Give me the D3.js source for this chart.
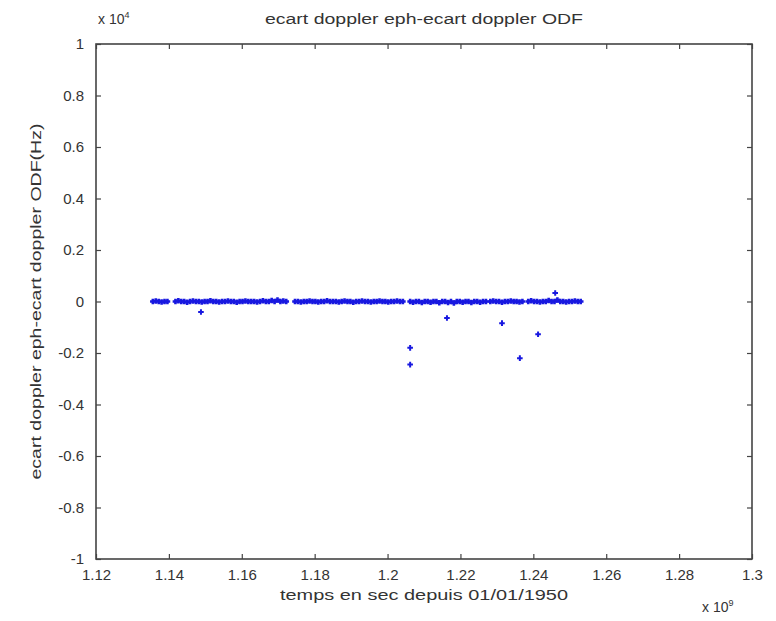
<!DOCTYPE html>
<html>
<head>
<meta charset="utf-8">
<script src="https://cdn.jsdelivr.net/npm/d3@7"></script>
<style>
  html, body { margin: 0; padding: 0; background: #fff; }
  svg { display: block; }
  text { font-family: "Liberation Sans", Arial, sans-serif; fill: #333; }
</style>
</head>
<body>
<svg id="chart" width="776" height="621"></svg>
<script>
// ---- data (time in 1e9 s, value in 1e4 Hz) ----
const titleText = "ecart doppler eph-ecart doppler ODF";
const xLabelText = "temps en sec depuis 01/01/1950";
const yLabelText = "ecart doppler eph-ecart doppler ODF(Hz)";

const xTicks = [1.12, 1.14, 1.16, 1.18, 1.2, 1.22, 1.24, 1.26, 1.28, 1.3];
const xTickLabels = ["1.12", "1.14", "1.16", "1.18", "1.2", "1.22", "1.24", "1.26", "1.28", "1.3"];
const yTicks = [-1, -0.8, -0.6, -0.4, -0.2, 0, 0.2, 0.4, 0.6, 0.8, 1];
const yTickLabels = ["-1", "-0.8", "-0.6", "-0.4", "-0.2", "0", "0.2", "0.4", "0.6", "0.8", "1"];

const bandTimes = [
  1.1356, 1.1364, 1.1372, 1.1380, 1.1388, 1.1396,
  1.1418, 1.1426, 1.1434, 1.1442, 1.1450, 1.1458, 1.1466, 1.1474, 1.1482, 1.1490,
  1.1498, 1.1506, 1.1514, 1.1522, 1.1530, 1.1538, 1.1546, 1.1554, 1.1562, 1.1570,
  1.1578, 1.1586, 1.1594, 1.1602, 1.1610, 1.1618, 1.1626, 1.1634, 1.1642, 1.1650,
  1.1658, 1.1666, 1.1674, 1.1682, 1.1690, 1.1698, 1.1706, 1.1714, 1.1722,
  1.1746, 1.1754, 1.1762, 1.1770, 1.1778, 1.1786, 1.1794, 1.1802, 1.1810, 1.1818,
  1.1826, 1.1834, 1.1842, 1.1850, 1.1858, 1.1866, 1.1874, 1.1882, 1.1890, 1.1898,
  1.1906, 1.1914, 1.1922, 1.1930, 1.1938, 1.1946, 1.1954, 1.1962, 1.1970, 1.1978,
  1.1986, 1.1994, 1.2002, 1.2010, 1.2018, 1.2026, 1.2034, 1.2042,
  1.2062, 1.2070, 1.2078, 1.2086, 1.2094, 1.2102, 1.2110, 1.2118, 1.2126, 1.2134,
  1.2142, 1.2150, 1.2158, 1.2166, 1.2174, 1.2182, 1.2190, 1.2198, 1.2206, 1.2214,
  1.2222, 1.2230, 1.2238, 1.2246, 1.2254, 1.2262, 1.2270,
  1.2282, 1.2290, 1.2298, 1.2306, 1.2314, 1.2322, 1.2330, 1.2338, 1.2346, 1.2354,
  1.2362, 1.2370,
  1.2386, 1.2394, 1.2402, 1.2410, 1.2418, 1.2426, 1.2434, 1.2442, 1.2450, 1.2458,
  1.2466, 1.2474, 1.2482, 1.2490, 1.2498, 1.2506, 1.2514, 1.2522, 1.2530
];
const bandValues = [
  0, 0.002, 0, -0.002, 0, 0,
  0, 0.003, 0, 0, -0.003, 0, 0.002, 0, 0, -0.002,
  0, 0, 0.003, 0, 0, -0.002, 0, 0, 0.002, 0,
  0, -0.003, 0, 0, 0.002, 0, 0, 0, -0.002, 0,
  0.003, 0, 0, 0.004, 0, 0.006, 0, 0.002, 0,
  0, 0, -0.002, 0, 0, 0.002, 0, 0, -0.002, 0,
  0, 0.003, 0, 0, 0, -0.002, 0, 0.002, 0, 0,
  -0.003, 0, 0, 0.002, 0, 0, -0.002, 0, 0, 0.002,
  0, 0, -0.002, 0, 0, 0.002, 0, 0,
  0, -0.003, 0, 0, -0.004, 0, 0, -0.003, 0, 0,
  -0.005, 0, 0, -0.004, 0, -0.006, 0, 0, -0.003, 0,
  0, -0.004, 0, 0, -0.003, 0, 0,
  0, 0.002, 0, 0, -0.003, 0, 0, 0.002, 0, 0,
  -0.002, 0,
  0, 0.003, 0, 0, -0.002, 0, 0, 0.004, 0, 0,
  0.006, 0, 0, -0.002, 0, 0, 0.002, 0, 0
];
const outlierTimes = [1.1488, 1.2062, 1.2062, 1.2163, 1.2314, 1.2363, 1.2413, 1.2460];
const outlierValues = [-0.041, -0.18, -0.245, -0.064, -0.084, -0.22, -0.127, 0.033];

// ---- layout ----
const svg = d3.select("#chart");
const W = 776, H = 621;
const margin = { left: 96, right: W - 752, top: 44, bottom: H - 559 };
const plotW = W - margin.left - margin.right;
const plotH = H - margin.top - margin.bottom;

const x = d3.scaleLinear().domain([1.12, 1.3]).range([margin.left, margin.left + plotW]);
const y = d3.scaleLinear().domain([-1, 1]).range([margin.top + plotH, margin.top]);

svg.append("rect").attr("x", 0).attr("y", 0).attr("width", W).attr("height", H).attr("fill", "#fff");

const axisColor = "#444";
const tickLen = 5;
const fontSize = 15;

const xAxisB = d3.axisBottom(x).tickValues(xTicks)
  .tickFormat((d, i) => xTickLabels[i]).tickSizeInner(-tickLen).tickSizeOuter(0).tickPadding(10);
const gxB = svg.append("g").attr("transform", `translate(0,${margin.top + plotH})`).call(xAxisB);
const xAxisT = d3.axisTop(x).tickValues(xTicks).tickFormat("").tickSizeInner(-tickLen).tickSizeOuter(0);
const gxT = svg.append("g").attr("transform", `translate(0,${margin.top})`).call(xAxisT);

const yAxisL = d3.axisLeft(y).tickValues(yTicks)
  .tickFormat((d, i) => yTickLabels[i]).tickSizeInner(-tickLen).tickSizeOuter(0).tickPadding(12);
const gyL = svg.append("g").attr("transform", `translate(${margin.left},0)`).call(yAxisL);
const yAxisR = d3.axisRight(y).tickValues(yTicks).tickFormat("").tickSizeInner(-tickLen).tickSizeOuter(0);
const gyR = svg.append("g").attr("transform", `translate(${margin.left + plotW},0)`).call(yAxisR);

[gxB, gxT, gyL, gyR].forEach(g => {
  g.select(".domain").remove();
  g.selectAll(".tick line").attr("stroke", axisColor).attr("stroke-width", 1.2);
  g.selectAll(".tick text").attr("fill", "#333").style("font-size", fontSize + "px")
    .style("font-family", '"Liberation Sans", Arial, sans-serif');
});
gxB.selectAll(".tick text").attr("dy", "0.71em");

svg.append("rect")
  .attr("x", margin.left).attr("y", margin.top)
  .attr("width", plotW).attr("height", plotH)
  .attr("fill", "none").attr("stroke", axisColor).attr("stroke-width", 1.6);

// ---- data marks ----
const blue = "#1818e0";
const plus = (g, data, arm, sw) => g.selectAll(null).data(data).enter().append("path")
  .attr("d", d => {
    const cx = x(d[0]), cy = y(d[1]);
    return `M${cx - arm},${cy}H${cx + arm}M${cx},${cy - arm}V${cy + arm}`;
  })
  .attr("stroke", blue).attr("stroke-width", sw).attr("fill", "none");
const marks = svg.append("g");
plus(marks, bandTimes.map((t, i) => [t, bandValues[i]]), 2.8, 2.6);
plus(marks, outlierTimes.map((t, i) => [t, outlierValues[i]]), 2.8, 2);

// ---- texts ----
svg.append("text").attr("x", margin.left + plotW / 2).attr("y", 24)
  .attr("text-anchor", "middle").style("font-size", "14px")
  .attr("textLength", 318).attr("lengthAdjust", "spacingAndGlyphs")
  .text(titleText);

svg.append("text").attr("x", margin.left + plotW / 2).attr("y", 600)
  .attr("text-anchor", "middle").style("font-size", "15px")
  .attr("textLength", 288).attr("lengthAdjust", "spacingAndGlyphs")
  .text(xLabelText);

svg.append("text")
  .attr("transform", `translate(41,${margin.top + plotH / 2}) rotate(-90)`)
  .attr("text-anchor", "middle").style("font-size", "14px")
  .attr("textLength", 356).attr("lengthAdjust", "spacingAndGlyphs")
  .text(yLabelText);

const expY = svg.append("text").attr("x", margin.left + 2).attr("y", 24).style("font-size", "14px");
expY.append("tspan").text("x 10");
expY.append("tspan").attr("dy", -6).style("font-size", "9px").text("4");

const expX = svg.append("text").attr("x", 702).attr("y", 612).style("font-size", "14px");
expX.append("tspan").text("x 10");
expX.append("tspan").attr("dy", -6).style("font-size", "9px").text("9");
</script>
</body>
</html>
